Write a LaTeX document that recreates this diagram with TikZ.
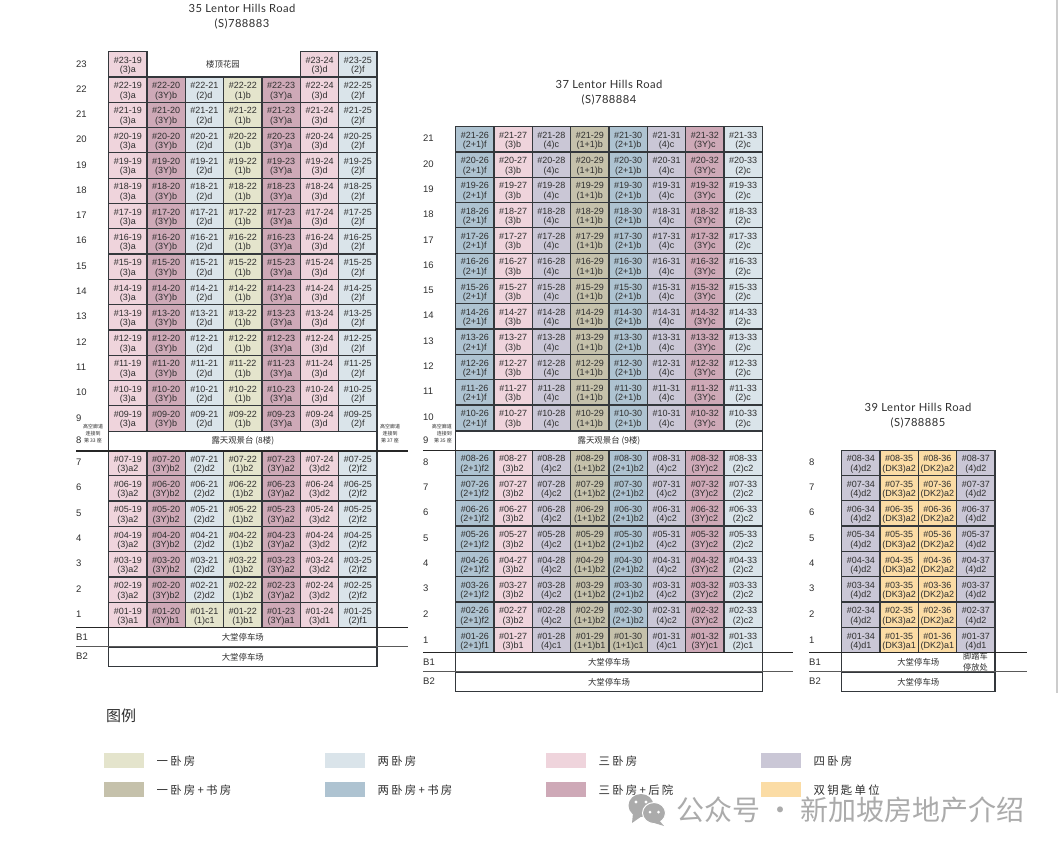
\documentclass[tikz,border=0pt]{standalone}
\usepackage{fontspec}
\usetikzlibrary{positioning}
\setmainfont{Liberation Sans}
\newfontfamily\cjk{Noto Sans CJK SC}
\newfontfamily\legendcjk[LetterSpace=20]{Noto Sans CJK SC}
\newfontfamily\titlefont[LetterSpace=4]{Lato}

\definecolor{oneroom}{HTML}{E4E4CC}
\definecolor{onestudy}{HTML}{C5C1AB}
\definecolor{tworoom}{HTML}{DAE4EA}
\definecolor{twostudy}{HTML}{AEC3D1}
\definecolor{threeroom}{HTML}{EFD4DC}
\definecolor{threeyard}{HTML}{CEA9B7}
\definecolor{fourroom}{HTML}{CAC7D6}
\definecolor{dualkey}{HTML}{FBDCA5}
\definecolor{gridline}{HTML}{34383C}
\definecolor{inktext}{HTML}{2E2E2E}
\definecolor{markgray}{HTML}{ABABAB}

\tikzset{
    unit/.style={draw=gridline, line width=1.2pt, anchor=north west, inner sep=0pt,
        minimum width=\colw pt, minimum height=\rowh pt, align=center, text=inktext,
        font=\fontsize{9}{9.4}\selectfont},
    rowlabel/.style={anchor=west, inner sep=0pt, text=inktext, font=\fontsize{9.5}{11}\selectfont},
    wide/.style={draw=gridline, line width=1.2pt, anchor=north west, inner sep=0pt, fill=white,
        minimum height=#1, text=inktext, font=\cjk\fontsize{8.4}{10}\selectfont},
    plain/.style={inner sep=0pt, align=center, text=inktext, font=\cjk\fontsize{8.4}{10}\selectfont},
    bridge/.style={inner sep=0pt, text=inktext, font=\cjk\fontsize{5}{7}\selectfont},
    towertitle/.style={inner sep=0pt, align=center, text=inktext, font=\titlefont\fontsize{11.2}{15}\selectfont},
    floorline/.style={line width=1.1pt, draw=black!85},
    swatch/.style={minimum width=40pt, minimum height=15pt, inner sep=0pt, anchor=north west},
    legendtext/.style={inner sep=0pt, text=inktext, font=\legendcjk\fontsize{11.4}{13}\selectfont},
}

\def\colw{38.35}
\def\rowh{25.3}

% One row of flats
\newcommand{\unitrow}[5]{%
    \foreach \c/\t/\f [count=\k from 0] in {#5} {
        \pgfmathsetmacro{\xpos}{#3+\k*\colw}
        \node[unit, fill=\f] (u#1-\c) at (\xpos,#2) {\rule{0pt}{9.4pt}\##1-\c\\\t#4};
    }%
}

\begin{document}
\begin{tikzpicture}[x=1pt, y=-1pt]
    \useasboundingbox (0,0) rectangle (1058,852);
    \def\rr{\ifnum\r<10 0\fi\r}

    % page edge
    \fill[black!20] (1056,0) rectangle (1058,693);

    % Block 35
    \node[towertitle] (title35) at (242,16.5) {35 Lentor Hills Road\\(S)788883};
    \node[unit, fill=threeroom] (u23-19) at (108,51) {\rule{0pt}{9.4pt}\#23-19\\(3)a};
    \node[unit, fill=threeroom] (u23-24) at (299.75,51) {\rule{0pt}{9.4pt}\#23-24\\(3)d};
    \node[unit, fill=tworoom] (u23-25) at (338.1,51) {\rule{0pt}{9.4pt}\#23-25\\(2)f};
    \node[plain] (garden) at (223,64) {楼顶花园};
    \node[rowlabel] (a23) at (76,64) {23};
    \foreach \r in {9,...,22} {
        \pgfmathsetmacro{\ypos}{76.3+(22-\r)*\rowh}
        \node[rowlabel] (a\r) at (76,\ypos+12.6) {\r};
        \expandafter\unitrow\expandafter{\rr}{\ypos}{108}{}{19/(3)a/threeroom,20/(3Y)b/threeyard,21/(2)d/tworoom,22/(1)b/oneroom,23/(3Y)a/threeyard,24/(3)d/threeroom,25/(2)f/tworoom}
    }
    \node[wide=19.3pt, minimum width=268.45pt] (deck35) at (108,430.5) {露天观景台 (8楼)};
    \node[rowlabel] (a8) at (76,440) {8};
    \node[bridge, align=center] (left35) at (93,434) {高空廊道\\连接到\\第 33 座};
    \node[bridge, align=center] (right35) at (390,434) {高空廊道\\连接到\\第 37 座};
    \foreach \r in {2,...,7} {
        \pgfmathsetmacro{\ypos}{449.8+(7-\r)*\rowh}
        \node[rowlabel] (a\r) at (76,\ypos+12.6) {\r};
        \expandafter\unitrow\expandafter{\rr}{\ypos}{108}{2}{19/(3)a/threeroom,20/(3Y)b/threeyard,21/(2)d/tworoom,22/(1)b/oneroom,23/(3Y)a/threeyard,24/(3)d/threeroom,25/(2)f/tworoom}
    }
    \node[rowlabel] (a1) at (76,614.4) {1};
    \unitrow{01}{601.8}{108}{1}{19/(3)a/threeroom,20/(3Y)b/threeyard,21/(1)c/oneroom,22/(1)b/oneroom,23/(3Y)a/threeyard,24/(3)d/threeroom,25/(2)f/tworoom}
    \node[wide=19.5pt, minimum width=268.45pt] (carone35) at (108,627.2) {大堂停车场};
    \node[wide=19.3pt, minimum width=268.45pt] (cartwo35) at (108,646.7) {大堂停车场};
    \node[rowlabel] (aB1) at (76,637) {B1};
    \node[rowlabel] (aB2) at (76,656.5) {B2};
    \coordinate (edgeL) at (76,0);
    \coordinate (edgeR) at (408,0);
    \draw[floorline] (edgeL |- deck35.south) -- (edgeR |- deck35.south);
    \draw[floorline] (edgeL |- carone35.north) -- (edgeR |- carone35.north);
    \draw[floorline, draw=black!65] (edgeL |- cartwo35.north) -- (edgeR |- cartwo35.north);

    % Block 37
    \node[towertitle] (title37) at (609,92.5) {37 Lentor Hills Road\\(S)788884};
    \foreach \r in {10,...,21} {
        \pgfmathsetmacro{\ypos}{126+(21-\r)*\rowh}
        \node[rowlabel] (b\r) at (423,\ypos+12.6) {\r};
        \unitrow{\r}{\ypos}{455}{}{26/(2+1)f/twostudy,27/(3)b/threeroom,28/(4)c/fourroom,29/(1+1)b/onestudy,30/(2+1)b/twostudy,31/(4)c/fourroom,32/(3Y)c/threeyard,33/(2)c/tworoom}
    }
    \node[wide=19pt, minimum width=306.8pt] (deck37) at (455,430.5) {露天观景台 (9楼)};
    \node[rowlabel] (b9) at (423,440) {9};
    \node[bridge, align=right, anchor=east] (left37) at (452,434) {高空廊道\\连接到\\第 35 座};
    \foreach \r in {2,...,8} {
        \pgfmathsetmacro{\ypos}{449.5+(8-\r)*\rowh}
        \node[rowlabel] (b\r) at (423,\ypos+12.6) {\r};
        \expandafter\unitrow\expandafter{\rr}{\ypos}{455}{2}{26/(2+1)f/twostudy,27/(3)b/threeroom,28/(4)c/fourroom,29/(1+1)b/onestudy,30/(2+1)b/twostudy,31/(4)c/fourroom,32/(3Y)c/threeyard,33/(2)c/tworoom}
    }
    \node[rowlabel] (b1) at (423,639.9) {1};
    \unitrow{01}{626.8}{455}{1}{26/(2+1)f/twostudy,27/(3)b/threeroom,28/(4)c/fourroom,29/(1+1)b/onestudy,30/(1+1)c/onestudy,31/(4)c/fourroom,32/(3Y)c/threeyard,33/(2)c/tworoom}
    \node[wide=19.5pt, minimum width=306.8pt] (carone37) at (455,652.2) {大堂停车场};
    \node[wide=19.3pt, minimum width=306.8pt] (cartwo37) at (455,671.7) {大堂停车场};
    \node[rowlabel] (bB1) at (423,662) {B1};
    \node[rowlabel] (bB2) at (423,681.5) {B2};
    \coordinate (midL) at (423,0);
    \coordinate (midR) at (793,0);
    \draw[floorline] (midL |- deck37.south) -- (deck37.south east);
    \draw[floorline] (midL |- carone37.north) -- (midR |- carone37.north);
    \draw[floorline, draw=black!65] (midL |- cartwo37.north) -- (midR |- cartwo37.north);

    % Block 39
    \node[towertitle] (title39) at (918,415.5) {39 Lentor Hills Road\\(S)788885};
    \foreach \r in {2,...,8} {
        \pgfmathsetmacro{\ypos}{449.5+(8-\r)*\rowh}
        \node[rowlabel] (c\r) at (809,\ypos+12.6) {\r};
        \expandafter\unitrow\expandafter{\rr}{\ypos}{841}{2}{34/(4)d/fourroom,35/(DK3)a/dualkey,36/(DK2)a/dualkey,37/(4)d/fourroom}
    }
    \node[rowlabel] (c1) at (809,639.9) {1};
    \unitrow{01}{626.8}{841}{1}{34/(4)d/fourroom,35/(DK3)a/dualkey,36/(DK2)a/dualkey,37/(4)d/fourroom}
    \node[wide=19.5pt, minimum width=153.4pt] (carone39) at (841,652.2) {大堂停车场};
    \node[wide=19.3pt, minimum width=153.4pt] (cartwo39) at (841,671.7) {大堂停车场};
    \node[plain, font=\cjk\fontsize{8.2}{10.5}\selectfont] (bike) at (975.5,662) {脚踏车\\停放处};
    \node[rowlabel] (cB1) at (809,662) {B1};
    \node[rowlabel] (cB2) at (809,681.5) {B2};
    \coordinate (sideL) at (809,0);
    \coordinate (sideR) at (1027,0);
    \draw[floorline] (sideL |- carone39.north) -- (sideR |- carone39.north);
    \draw[floorline, draw=black!65] (sideL |- cartwo39.north) -- (sideR |- cartwo39.north);

    % Legend
    \node[anchor=west, inner sep=0pt, text=inktext, font=\cjk\fontsize{15}{17}\selectfont] (legendtitle) at (106,716) {图例};
    \foreach \x/\y/\f/\t [count=\i] in {
        104/753/oneroom/一卧房, 104/782/onestudy/一卧房+书房,
        325/753/tworoom/两卧房, 325/782/twostudy/两卧房+书房,
        546/753/threeroom/三卧房, 546/782/threeyard/三卧房+后院,
        761/753/fourroom/四卧房, 761/782/dualkey/双钥匙单位} {
        \node[swatch, fill=\f] (sw\i) at (\x,\y) {};
        \node[legendtext, right=12pt of sw\i] (lg\i) {\t};
    }

    % Watermark
    \fill[markgray] (641,805.5) ellipse (12.5pt and 11.5pt);
    \fill[markgray] (633,813) -- (632,823) -- (642,816) -- cycle;
    \fill[white] (636,802) circle (1.6pt) (646,802) circle (1.6pt);
    \fill[markgray, draw=white, line width=1pt] (654,813) ellipse (11.5pt and 10.5pt);
    \fill[markgray] (659,820) -- (664,826) -- (651,822) -- cycle;
    \fill[white] (650,812) circle (1.5pt) (658.5,812) circle (1.5pt);
    \node[anchor=west, inner sep=0pt, text=markgray, font=\cjk\fontsize{28}{32}\selectfont] (mark) at (676,810) {公众号 · 新加坡房地产介绍};
\end{tikzpicture}
\end{document}
